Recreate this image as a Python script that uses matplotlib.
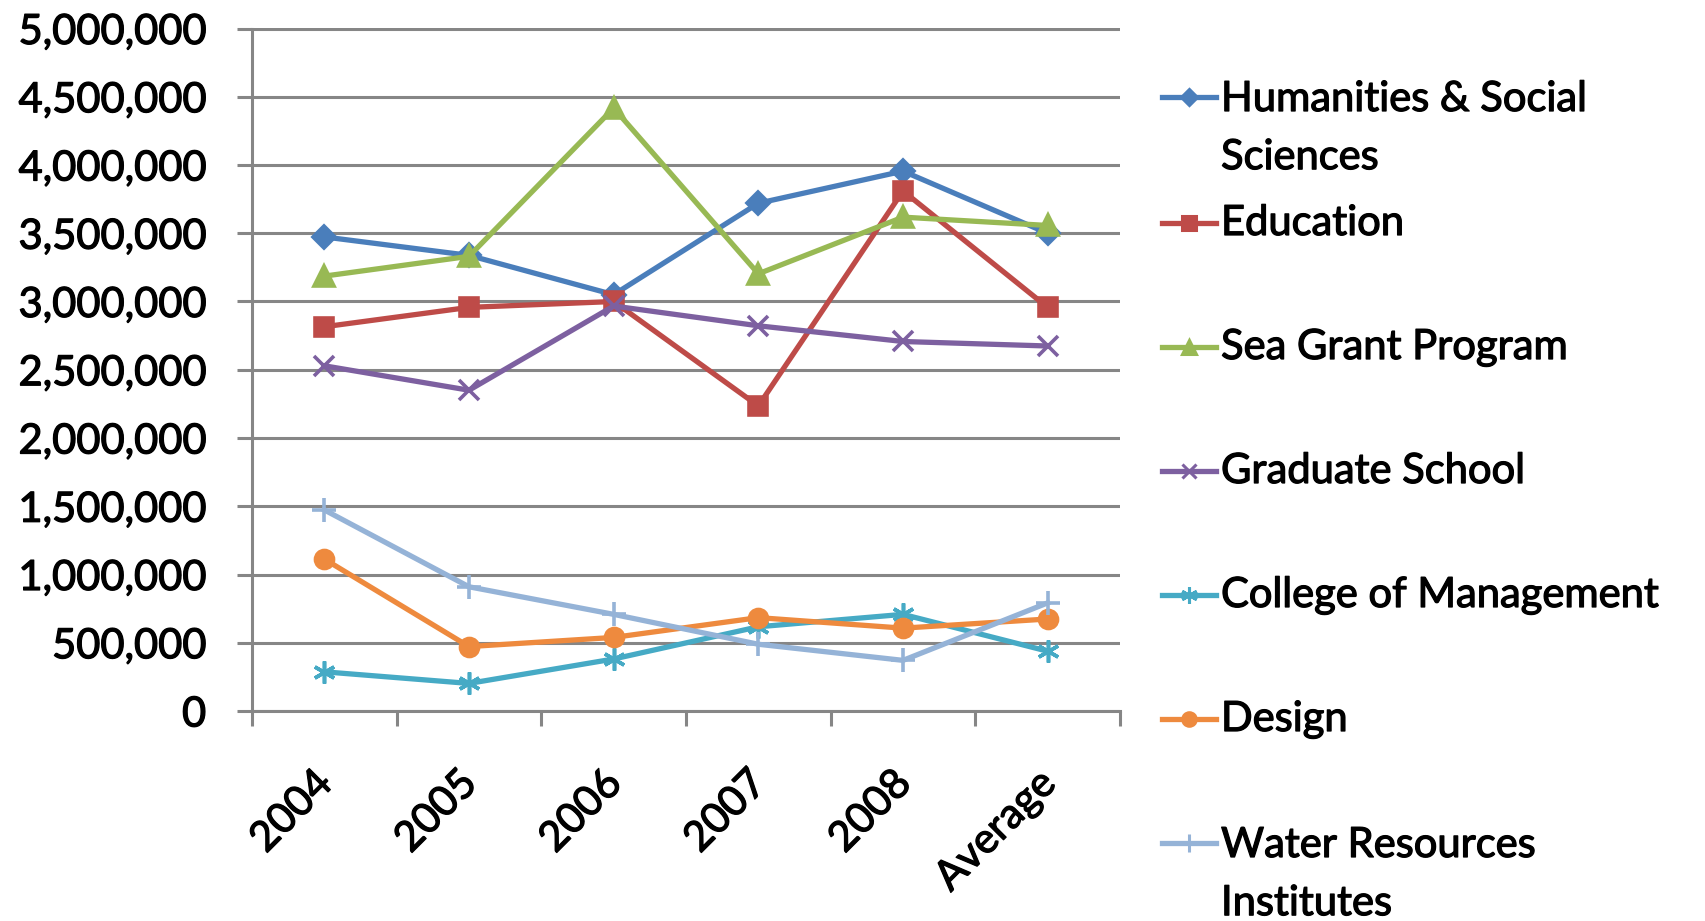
import matplotlib
matplotlib.use("Agg")
import matplotlib.pyplot as plt
import matplotlib.patheffects as pe
import matplotlib.transforms as mtransforms
from matplotlib.lines import Line2D
from matplotlib.ticker import FuncFormatter, MultipleLocator

plt.rcParams['font.family'] = ['Lato', 'DejaVu Sans']

categories = ['2004', '2005', '2006', '2007', '2008', 'Average']

humanities = [3473000, 3338000, 3050000, 3720000, 3955000, 3500000]
education = [2815000, 2957000, 3000000, 2235000, 3810000, 2957000]
sea_grant = [3186000, 3331000, 4417000, 3203000, 3618000, 3557000]
graduate = [2529000, 2350000, 2967000, 2822000, 2707000, 2674000]
management = [287000, 202000, 381000, 617000, 708000, 438000]
design = [1113000, 472000, 539000, 684000, 607000, 674000]
water = [1473000, 910000, 708000, 489000, 371000, 792000]

series = [
    ('Humanities & Social\nSciences', humanities, '#4A7EBB', 'D', 11),
    ('Education', education, '#BE4B48', 's', 13),
    ('Sea Grant Program', sea_grant, '#98B954', '^', 14),
    ('Graduate School', graduate, '#7D60A0', 'x', 14),
    ('College of Management', management, '#46AAC5', (6, 2, 0), 16),
    ('Design', design, '#EE8A3E', 'o', 13),
    ('Water Resources\nInstitutes', water, '#95B3D7', '+', 17),
]

grey = '#868686'
heavy = [pe.withStroke(linewidth=0.9, foreground='black')]

fig = plt.figure(figsize=(17.06, 9.21), dpi=100)
ax = fig.add_axes([252 / 1706, 1 - 711 / 921, (1120 - 252) / 1706, (711 - 28.5) / 921])

x = list(range(len(categories)))
for name, vals, col, mk, ms in series:
    ax.plot(x, vals, color=col, lw=3.8, marker=mk, markersize=ms,
            markeredgewidth=2.6, markeredgecolor=col, markerfacecolor=col,
            zorder=3)

ax.set_xlim(-0.5, len(categories) - 0.5)
ax.set_ylim(0, 5000000)
ax.yaxis.set_major_locator(MultipleLocator(500000))
ax.yaxis.set_major_formatter(FuncFormatter(lambda v, p: f'{int(v):,}'))
ax.grid(axis='y', color=grey, lw=2.2, zorder=0)

for s in ['top', 'right']:
    ax.spines[s].set_visible(False)
for s in ['left', 'bottom']:
    ax.spines[s].set_color(grey)
    ax.spines[s].set_linewidth(2.2)

ax.tick_params(axis='y', direction='out', length=11, width=2.2, color=grey,
               labelsize=30, pad=22)
ax.set_xticks(x)
ax.set_xticklabels(categories, fontsize=30, rotation=45, ha='right',
                   rotation_mode='anchor')
ax.tick_params(axis='x', which='major', length=0, pad=38)
ax.set_xticks([i - 0.5 for i in range(len(categories) + 1)], minor=True)
ax.tick_params(axis='x', which='minor', direction='out', length=11, width=2.2,
               color=grey)

shift = mtransforms.ScaledTranslation(-12 / 100, 0, fig.dpi_scale_trans)
for lab in ax.get_xticklabels():
    lab.set_transform(lab.get_transform() + shift)
for lab in ax.get_xticklabels() + ax.get_yticklabels():
    lab.set_path_effects(heavy)

# legend drawn by hand so entries keep Excel's even spacing
ys = [97, 223, 347, 471, 595, 719, 843]
for (name, vals, col, mk, ms), yp in zip(series, ys):
    fy = 1 - yp / 921
    fig.add_artist(Line2D([1162 / 1706, 1216 / 1706], [fy, fy], color=col, lw=3.8,
                          transform=fig.transFigure))
    fig.add_artist(Line2D([1189 / 1706], [fy], color=col, marker=mk,
                          markersize=ms * 0.75, markeredgewidth=2.2,
                          markeredgecolor=col, markerfacecolor=col,
                          transform=fig.transFigure))
    if '\n' in name:
        t = fig.text(1221 / 1706, 1 - (yp - 17) / 921, name, fontsize=30,
                     va='top', ha='left', linespacing=1.65)
    else:
        t = fig.text(1221 / 1706, fy, name, fontsize=30, va='center', ha='left')
    t.set_path_effects(heavy)

fig.savefig('out.png', dpi=100)
